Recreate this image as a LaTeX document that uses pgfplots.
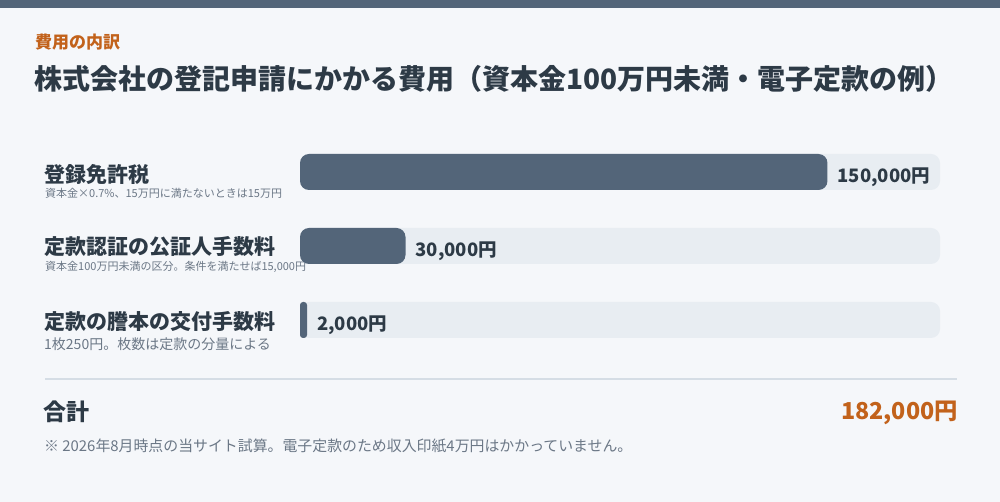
\documentclass[border=0pt]{standalone}
\usepackage{fontspec}
\setmainfont{Noto Sans CJK JP}
\usepackage{pgfplots}
\pgfplotsset{compat=1.18}

\definecolor{bg}{HTML}{F5F7FA}
\definecolor{slate}{HTML}{536579}
\definecolor{track}{HTML}{E8EDF2}
\definecolor{ink}{HTML}{2D3A46}
\definecolor{muted}{HTML}{6B7786}
\definecolor{accent}{HTML}{C2621B}
\definecolor{rule}{HTML}{D5DDE5}

\newcommand{\fs}[1]{\fontsize{#1}{#1}\selectfont}

\pgfplotsset{
  fee/.style={fill=slate, draw=none, bar shift=0pt, point meta=x,
    nodes near coords={\pgfmathprintnumber[fixed,precision=0,1000 sep={,}]{\pgfplotspointmeta}円},
    every node near coord/.append style={anchor=west, inner sep=0pt, xshift=10pt, yshift=-5.5pt,
        text=ink, font=\fs{18.5}\bfseries}},
}

\begin{document}
\begin{tikzpicture}[x=1pt,y=1pt]
% canvas, 1 unit = 1 px of the reference, y measured from the bottom
\fill[bg] (0,0) rectangle (1000,502);
\fill[slate] (0,494) rectangle (1000,502);

% heading
\node[anchor=west,inner sep=0,text=accent,font=\fs{17}\bfseries] at (35,460) {費用の内訳};
\node[anchor=west,inner sep=0,text=ink,font=\fs{28}\bfseries] at (34,423)
  {株式会社の登記申請にかかる費用（資本金100万円未満・電子定款の例）};

% row labels
\node[anchor=west,inner sep=0,text=ink,font=\fs{21}\bfseries] at (44,328) {登録免許税};
\node[anchor=west,inner sep=0,text=muted,font=\fs{11}] at (45,309) {資本金×0.7\%、15万円に満たないときは15万円};
\node[anchor=west,inner sep=0,text=ink,font=\fs{21}\bfseries] at (44,255) {定款認証の公証人手数料};
\node[anchor=west,inner sep=0,text=muted,font=\fs{11}] at (45,235) {資本金100万円未満の区分。条件を満たせば15,000円};
\node[anchor=west,inner sep=0,text=ink,font=\fs{21}\bfseries] at (44,180) {定款の謄本の交付手数料};
\node[anchor=west,inner sep=0,text=muted,font=\fs{14}] at (44,158) {1枚250円。枚数は定款の分量による};

\begin{axis}[
    at={(300pt,145pt)}, anchor=south west,
    scale only axis, width=640pt, height=222pt,
    xbar, bar width=36pt,
    xmin=0, xmax=182000,
    ymin=-0.5, ymax=2.5, y dir=reverse,
    hide axis, clip=false,
    /pgf/number format/assume math mode=true,
]
% full-scale track (total 182,000)
\addplot[fill=track, draw=none, rounded corners=9pt, bar shift=0pt]
  coordinates {(182000,0) (182000,1) (182000,2)};
% fees
\addplot[fee, rounded corners=9pt] coordinates {(150000,0) (30000,1)};
\addplot[fee, rounded corners=3pt] coordinates {(2000,2)};
\end{axis}

% total
\draw[rule, line width=2pt] (45,123) -- (957,123);
\node[anchor=west,inner sep=0,text=ink,font=\fs{23}\bfseries] at (43,90) {合計};
\node[anchor=east,inner sep=0,text=accent,font=\fs{23.3}\bfseries] at (958,89) {182,000円};
\node[anchor=west,inner sep=0,text=muted,font=\fs{14.9}] at (44,56)
  {※ 2026年8月時点の当サイト試算。電子定款のため収入印紙4万円はかかっていません。};
\end{tikzpicture}
\end{document}
